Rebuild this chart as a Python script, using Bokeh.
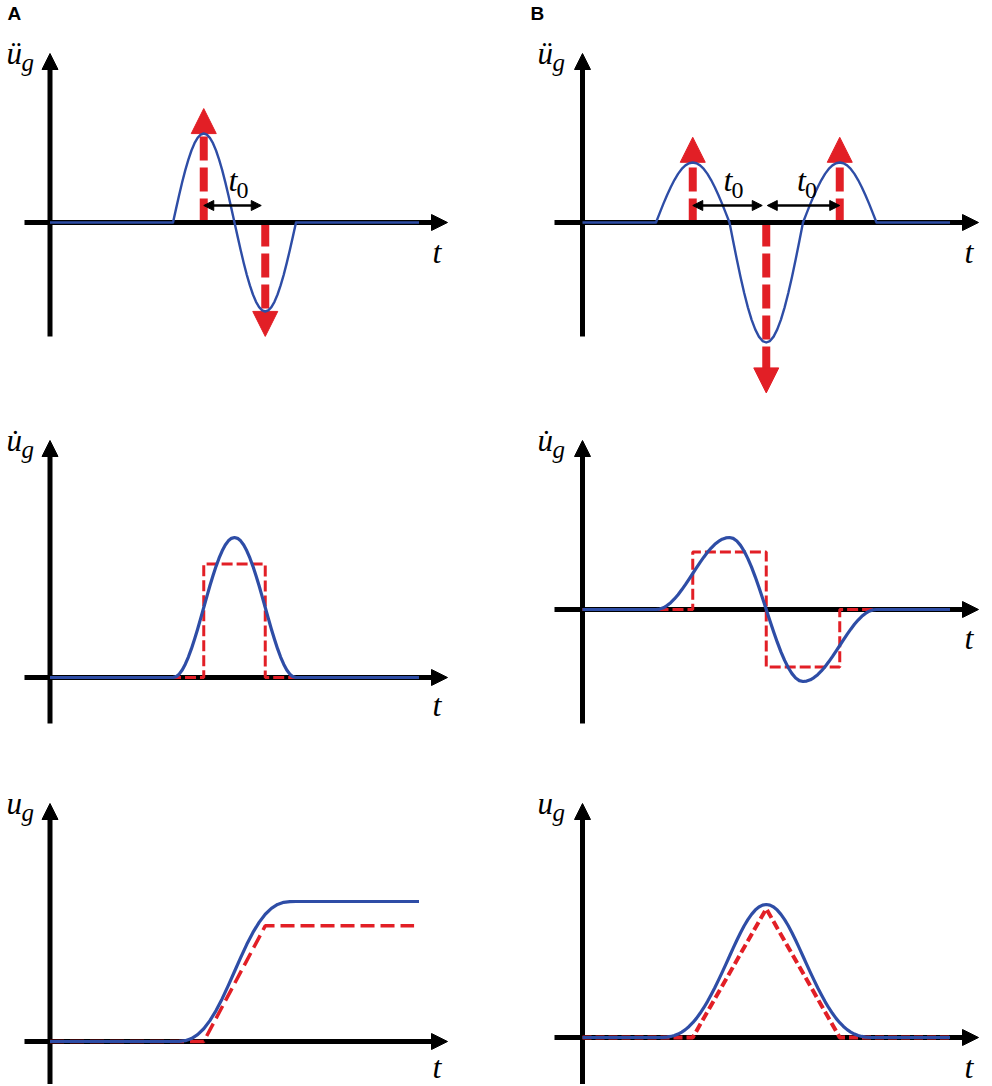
import numpy as np
from bokeh.plotting import figure
from bokeh.layouts import gridplot
from bokeh.models import Range1d, Arrow, NormalHead
from bokeh.core.properties import value
from bokeh.embed import file_html
from bokeh.resources import INLINE

# ---------------- data (time in units of t0, amplitudes normalised) ----------------
T_ACC_A = np.linspace(2.0, 4.0, 41)
ACC_A = [0, 0.156, 0.309, 0.454, 0.588, 0.707, 0.809, 0.891, 0.951, 0.988, 1.0,
         0.988, 0.951, 0.891, 0.809, 0.707, 0.588, 0.454, 0.309, 0.156, 0.0,
         -0.156, -0.309, -0.454, -0.588, -0.707, -0.809, -0.891, -0.951, -0.988, -1.0,
         -0.988, -0.951, -0.891, -0.809, -0.707, -0.588, -0.454, -0.309, -0.156, 0.0]

T_ACC_B = np.linspace(1.0, 4.0, 61)
ACC_B = [0, 0.078, 0.155, 0.227, 0.294, 0.354, 0.405, 0.446, 0.476, 0.494, 0.5,
         0.494, 0.476, 0.446, 0.405, 0.354, 0.294, 0.227, 0.155, 0.078, 0.0,
         -0.156, -0.309, -0.454, -0.588, -0.707, -0.809, -0.891, -0.951, -0.988, -1.0,
         -0.988, -0.951, -0.891, -0.809, -0.707, -0.588, -0.454, -0.309, -0.156, 0.0,
         0.078, 0.155, 0.227, 0.294, 0.354, 0.405, 0.446, 0.476, 0.494, 0.5,
         0.494, 0.476, 0.446, 0.405, 0.354, 0.294, 0.227, 0.155, 0.078, 0.0]

T_VEL_A = np.linspace(2.0, 4.0, 41)
VEL_A = [0, 0.006, 0.024, 0.054, 0.095, 0.146, 0.206, 0.273, 0.345, 0.422, 0.5,
         0.578, 0.655, 0.727, 0.794, 0.854, 0.905, 0.946, 0.976, 0.994, 1.0,
         0.994, 0.976, 0.946, 0.905, 0.854, 0.794, 0.727, 0.655, 0.578, 0.5,
         0.422, 0.345, 0.273, 0.206, 0.146, 0.095, 0.054, 0.024, 0.006, 0.0]

T_VEL_B = np.linspace(1.0, 4.0, 61)
VEL_B = [0, 0.006, 0.024, 0.054, 0.095, 0.146, 0.206, 0.273, 0.345, 0.422, 0.5,
         0.578, 0.655, 0.727, 0.794, 0.854, 0.905, 0.946, 0.976, 0.994, 1.0,
         0.988, 0.951, 0.891, 0.809, 0.707, 0.588, 0.454, 0.309, 0.156, 0.0,
         -0.156, -0.309, -0.454, -0.588, -0.707, -0.809, -0.891, -0.951, -0.988, -1.0,
         -0.994, -0.976, -0.946, -0.905, -0.854, -0.794, -0.727, -0.655, -0.578, -0.5,
         -0.422, -0.345, -0.273, -0.206, -0.146, -0.095, -0.054, -0.024, -0.006, 0.0]

T_DISP_A = np.linspace(2.0, 4.0, 21)
DISP_A = [0, 0.001, 0.006, 0.021, 0.049, 0.091, 0.149, 0.221, 0.306, 0.401, 0.5,
          0.599, 0.694, 0.779, 0.851, 0.909, 0.951, 0.979, 0.994, 0.999, 1.0]

T_DISP_B = np.linspace(1.0, 4.0, 61)
DISP_B = [0, 0.000, 0.001, 0.003, 0.008, 0.015, 0.026, 0.041, 0.059, 0.083, 0.111,
          0.144, 0.182, 0.224, 0.270, 0.321, 0.374, 0.431, 0.490, 0.550, 0.611,
          0.672, 0.731, 0.788, 0.840, 0.886, 0.926, 0.958, 0.981, 0.995, 1.0,
          0.995, 0.981, 0.958, 0.926, 0.886, 0.840, 0.788, 0.731, 0.672, 0.611,
          0.550, 0.490, 0.431, 0.374, 0.321, 0.270, 0.224, 0.182, 0.144, 0.111,
          0.083, 0.059, 0.041, 0.026, 0.015, 0.008, 0.003, 0.001, 0.000, 0.0]

T_END_A = 6.0
T_END_B = 5.0

# impulse (red arrow) times and tip values
IMP_A_T = [2.5, 3.5]
IMP_A_TIP = [1.28, -1.28]
IMP_B_T = [1.5, 2.5, 3.5]
IMP_B_TIP = [0.71, -1.42, 0.71]

# piece-wise approximations (red dashed)
VSTEP_A_T = [0, 2.5, 2.5, 3.5, 3.5, 6.0]
VSTEP_A = [0, 0, 0.81, 0.81, 0, 0]
VSTEP_B_T = [0, 1.5, 1.5, 2.5, 2.5, 3.5, 3.5, 5.0]
VSTEP_B = [0, 0, 0.80, 0.80, -0.80, -0.80, 0, 0]
DLIN_A_T = [0, 2.5, 3.5, 5.92]
DLIN_A = [0, 0, 0.826, 0.826]
DLIN_B_T = [0, 1.5, 2.5, 3.5, 5.0]
DLIN_B = [0, 0, 0.968, 0, 0]

BLUE = "#2E4DA6"
RED = "#E21F26"
SERIF = value("Liberation Serif")
SANS = value("Liberation Sans")
BASE_SHIFT = 0.33   # measured offset of rendered baseline, in em

# ---------------- layout geometry (page pixels) ----------------
COLS = {"A": dict(left=0, right=520, x0=49.5, sx=61.5, ax_l=24, ax_r=447, lab=6, tlab=432, letter=7),
        "B": dict(left=520, right=992, x0=582.0, sx=73.5, ax_l=554, ax_r=978, lab=537, tlab=964, letter=530)}
ROWS = [dict(top=0, bot=418, yt=53, yb=336),
        dict(top=418, bot=760, yt=440, yb=723),
        dict(top=760, bot=1084, yt=803, yb=1085)]


def make_panel(col, row, y0, sy, lab_base, t_base):
    c = COLS[col]
    r = ROWS[row]
    sx = c["sx"]
    X = lambda px: (px - c["x0"]) / sx
    Y = lambda py: (y0 - py) / sy
    p = figure(width=c["right"] - c["left"], height=r["bot"] - r["top"],
               x_range=Range1d(X(c["left"]), X(c["right"])),
               y_range=Range1d(Y(r["bot"]), Y(r["top"])),
               x_axis_location=None, y_axis_location=None,
               output_backend="svg", toolbar_location=None,
               min_border=0, min_border_left=0, min_border_right=0,
               min_border_top=0, min_border_bottom=0)
    p.grid.visible = False
    p.outline_line_color = None
    p.background_fill_color = "white"
    p.border_fill_color = "white"
    p._X, p._Y, p._sx, p._sy = X, Y, sx, sy
    p._c, p._r = c, r
    p._lab = (lab_base, t_base)
    return p


def put_text(p, px, py_base, txt, size, font=SERIF, style="italic"):
    X, Y = p._X, p._Y
    p.text(x=[X(px)], y=[Y(py_base - BASE_SHIFT * size)], text=[txt], text_font=font,
           text_font_style=style, text_font_size=f"{size}px", text_baseline="alphabetic",
           text_align="left", text_color="black")


def draw_axes(p):
    X, Y, sx, sy, c, r = p._X, p._Y, p._sx, p._sy, p._c, p._r
    hs = 16
    p.segment(X(c["ax_l"]), 0, X(c["ax_r"] - hs * 0.6), 0, line_width=5, line_color="black",
              level="underlay")
    p.add_layout(Arrow(end=NormalHead(size=hs, fill_color="black", line_color="black", line_width=1),
                       x_start=X(c["ax_r"] - hs), y_start=0, x_end=X(c["ax_r"]), y_end=0,
                       line_alpha=0, level="underlay"))
    p.segment(0, Y(r["yb"]), 0, Y(r["yt"] + hs * 0.6), line_width=5, line_color="black",
              level="underlay")
    p.add_layout(Arrow(end=NormalHead(size=hs, fill_color="black", line_color="black", line_width=1),
                       x_start=0, y_start=Y(r["yt"] + hs), x_end=0, y_end=Y(r["yt"]),
                       line_alpha=0, level="underlay"))


def draw_labels(p, dots):
    c = p._c
    lab_base, t_base = p._lab
    put_text(p, c["lab"], lab_base, "u" + dots, 31)
    put_text(p, c["lab"] + 15, lab_base + 7, "g", 25)
    put_text(p, c["tlab"], t_base, "t", 32)


def impulses(p, ts, tips):
    sy = p._sy
    hs = 25
    for t, tip in zip(ts, tips):
        sgn = 1 if tip > 0 else -1
        base = tip - sgn * hs / sy
        p.segment(t, 0, t, base, line_width=8, line_color=RED, line_dash="24 7",
                  line_cap="butt", level="underlay")
        p.add_layout(Arrow(end=NormalHead(size=hs, fill_color=RED, line_color=RED, line_width=1),
                           x_start=t, y_start=base, x_end=t, y_end=tip,
                           line_alpha=0, level="underlay"))


def t0_arrow(p, t1, t2, pad1, pad2, yp):
    X, Y, sx = p._X, p._Y, p._sx
    y = Y(yp)
    a, b = t1 + pad1 / sx, t2 - pad2 / sx
    hs = 10
    p.segment(a + 0.5 * hs / sx, y, b - 0.5 * hs / sx, y, line_width=2.5, line_color="black")
    p.add_layout(Arrow(start=NormalHead(size=hs, fill_color="black", line_color="black", line_width=1),
                       end=NormalHead(size=hs, fill_color="black", line_color="black", line_width=1),
                       x_start=a, y_start=y, x_end=b, y_end=y, line_alpha=0))
    mid_px = p._c["x0"] + 0.5 * (t1 + t2) * sx - 6
    put_text(p, mid_px, 190, "t", 32)
    put_text(p, mid_px + 8, 198, "0", 24, style="normal")


def panel_letter(p, letter):
    put_text(p, p._c["letter"], 19, letter, 19, font=SANS, style="bold")


def with_base(t, v, t_end):
    return [0.0] + list(t) + [t_end], [0.0] + list(v) + [v[-1]]


# ---------------- row 1: accelerations ----------------
a1 = make_panel("A", 0, 222, 89, 63, 262)
impulses(a1, IMP_A_T, IMP_A_TIP)
draw_axes(a1)
tt, vv = with_base(T_ACC_A, ACC_A, T_END_A)
a1.line(tt, vv, line_color=BLUE, line_width=2.4, line_join="round")
t0_arrow(a1, IMP_A_T[0], IMP_A_T[1], 0, 4, 205)
draw_labels(a1, "\u0308")
panel_letter(a1, "A")

b1 = make_panel("B", 0, 222, 120, 63, 262)
impulses(b1, IMP_B_T, IMP_B_TIP)
draw_axes(b1)
tt, vv = with_base(T_ACC_B, ACC_B, T_END_B)
b1.line(tt, vv, line_color=BLUE, line_width=2.4, line_join="round")
t0_arrow(b1, IMP_B_T[0], IMP_B_T[1], 0, 4, 205)
t0_arrow(b1, IMP_B_T[1], IMP_B_T[2], 1, 0, 205)
draw_labels(b1, "\u0308")
panel_letter(b1, "B")

# ---------------- row 2: velocities ----------------
a2 = make_panel("A", 1, 677, 140, 450, 715)
draw_axes(a2)
a2.line(VSTEP_A_T, VSTEP_A, line_color=RED, line_width=3, line_dash="11 4")
tt, vv = with_base(T_VEL_A, VEL_A, T_END_A)
a2.line(tt, vv, line_color=BLUE, line_width=3.2, line_join="round")
draw_labels(a2, "\u0307")

b2 = make_panel("B", 1, 609, 72, 450, 648)
draw_axes(b2)
b2.line(VSTEP_B_T, VSTEP_B, line_color=RED, line_width=3, line_dash="11 4")
tt, vv = with_base(T_VEL_B, VEL_B, T_END_B)
b2.line(tt, vv, line_color=BLUE, line_width=3.2, line_join="round")
draw_labels(b2, "\u0307")

# ---------------- row 3: displacements ----------------
a3 = make_panel("A", 2, 1041, 140, 813, 1077)
draw_axes(a3)
a3.line(DLIN_A_T, DLIN_A, line_color=RED, line_width=3.5, line_dash="14 6")
tt, vv = with_base(T_DISP_A, DISP_A, T_END_A)
a3.line(tt, vv, line_color=BLUE, line_width=3.2, line_join="round")
draw_labels(a3, "")

b3 = make_panel("B", 2, 1037, 133, 813, 1077)
draw_axes(b3)
b3.line(DLIN_B_T, DLIN_B, line_color=RED, line_width=4, line_dash="9 4")
tt, vv = with_base(T_DISP_B, DISP_B, T_END_B)
b3.line(tt, vv, line_color=BLUE, line_width=3.2, line_join="round")
draw_labels(b3, "")

grid = gridplot([[a1, b1], [a2, b2], [a3, b3]], toolbar_location=None)

open("out.html", "w").write(file_html(grid, INLINE))
